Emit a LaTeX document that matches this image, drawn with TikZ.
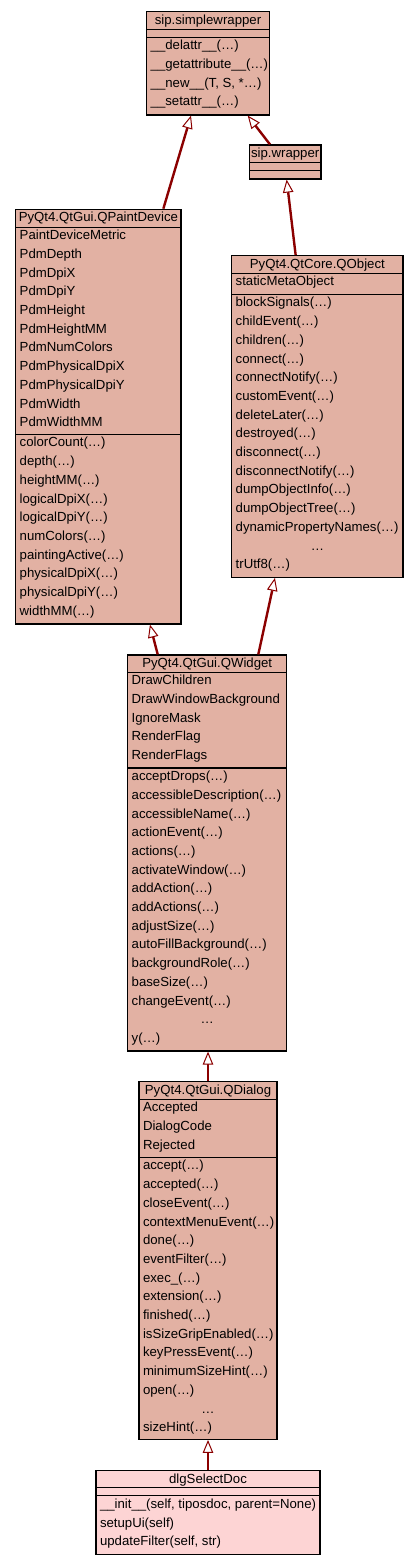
\documentclass[tikz,border=0pt]{standalone}
\usepackage{fontspec}
\setmainfont{Liberation Sans}
\usepackage{tikz}
\usetikzlibrary{arrows.meta, calc}

\definecolor{clsfill}{HTML}{E2B1A3}
\definecolor{docfill}{HTML}{FDD4D4}
\definecolor{inhred}{HTML}{8B0000}
\newcommand{\clsfont}{\fontsize{13.2}{16}\selectfont}

% class frame: name, left, right, top, title line, attribute line, bottom, fill, title
\newcommand{\umlframe}[9]{%
  \node[cls, fill=#8, minimum width={#3-#2}, minimum height={#7-#4}] (#1) at ({(#2+#3)/2},{(#4+#7)/2}) {};
  \draw[sepline] (#2,#5) -- (#3,#5);
  \draw[sepline] (#2,#6) -- (#3,#6);
  \node[hd] (#1-t) at ({(#2+#3)/2},{#4+12.6}) {#9};
}
% rows of a compartment: prefix, x, first baseline, list
\newcommand{\umlrows}[4]{%
  \foreach \t [count=\i] in {#4}
    \node[row] (#1\i) at ({#2},{#3+18.7*(\i-1)}) {\t};
}

\begin{document}
\begin{tikzpicture}[x=1pt, y=-1pt,
    cls/.style={draw, line width=1.2pt, inner sep=0pt},
    sepline/.style={line width=1.2pt},
    hd/.style={anchor=base, inner sep=0pt, font=\clsfont},
    row/.style={anchor=base west, inner sep=0pt, font=\clsfont},
    inh/.style={draw=inhred, line width=2.4pt, -{Triangle[fill=white, line width=1pt, length=13pt, width=10.5pt]}}
  ]
  \useasboundingbox (0,0) rectangle (419,1565);

  % sip base classes
  \umlframe{sw}{146.7}{269.3}{11.7}{29.3}{37.3}{115}{clsfill}{sip.simplewrapper}
  \umlrows{sw-m}{150.5}{37.3+12.6}{\_\_delattr\_\_(…), \_\_getattribute\_\_(…), {\_\_new\_\_(T, S, *…)}, \_\_setattr\_\_(…)}
  \umlframe{wr}{249.3}{321}{145}{162.7}{170.7}{179}{clsfill}{sip.wrapper}

  % QPaintDevice
  \umlframe{pd}{15.7}{181}{209.3}{227.3}{434.3}{624}{clsfill}{PyQt4.QtGui.QPaintDevice}
  \umlrows{pd-a}{19.5}{227.3+12.4}{PaintDeviceMetric, PdmDepth, PdmDpiX, PdmDpiY, PdmHeight, PdmHeightMM, PdmNumColors, PdmPhysicalDpiX, PdmPhysicalDpiY, PdmWidth, PdmWidthMM}
  \umlrows{pd-m}{19.5}{434.3+12.6}{colorCount(…), depth(…), heightMM(…), logicalDpiX(…), logicalDpiY(…), numColors(…), paintingActive(…), physicalDpiX(…), physicalDpiY(…), widthMM(…)}

  % QObject
  \umlframe{qo}{231.7}{403}{255.7}{273.3}{294.3}{577.3}{clsfill}{PyQt4.QtCore.QObject}
  \umlrows{qo-a}{235.5}{273.3+12.4}{staticMetaObject}
  \umlrows{qo-m}{235.5}{294.3+12.6}{blockSignals(…), childEvent(…), children(…), connect(…), connectNotify(…), customEvent(…), deleteLater(…), destroyed(…), disconnect(…), disconnectNotify(…), dumpObjectInfo(…), dumpObjectTree(…), dynamicPropertyNames(…)}
  \node[hd] (qo-dots) at (317.35,{294.3+12.6+18.7*13}) {…};
  \node[row] (qo-last) at (235.5,{294.3+12.6+18.7*14}) {trUtf8(…)};

  % QWidget
  \umlframe{qw}{127.7}{286.7}{655}{672.3}{768}{1051}{clsfill}{PyQt4.QtGui.QWidget}
  \umlrows{qw-a}{131.5}{672.3+12.4}{DrawChildren, DrawWindowBackground, IgnoreMask, RenderFlag, RenderFlags}
  \umlrows{qw-m}{131.5}{768+12.6}{acceptDrops(…), accessibleDescription(…), accessibleName(…), actionEvent(…), actions(…), activateWindow(…), addAction(…), addActions(…), adjustSize(…), autoFillBackground(…), backgroundRole(…), baseSize(…), changeEvent(…)}
  \node[hd] (qw-dots) at (207.2,{768+12.6+18.7*13}) {…};
  \node[row] (qw-last) at (131.5,{768+12.6+18.7*14}) {y(…)};

  % QDialog
  \umlframe{qd}{139}{277}{1081.7}{1099.3}{1157.3}{1439.3}{clsfill}{PyQt4.QtGui.QDialog}
  \umlrows{qd-a}{142.8}{1099.3+12.4}{Accepted, DialogCode, Rejected}
  \umlrows{qd-m}{142.8}{1157.3+12.6}{accept(…), accepted(…), closeEvent(…), contextMenuEvent(…), done(…), eventFilter(…), exec\_(…), extension(…), finished(…), isSizeGripEnabled(…), keyPressEvent(…), minimumSizeHint(…), open(…)}
  \node[hd] (qd-dots) at (208,{1157.3+12.6+18.7*13}) {…};
  \node[row] (qd-last) at (142.8,{1157.3+12.6+18.7*14}) {sizeHint(…)};

  % dlgSelectDoc
  \umlframe{dlg}{96}{320}{1470.7}{1487.7}{1495.7}{1554.7}{docfill}{dlgSelectDoc}
  \umlrows{dlg-m}{99.8}{1495.7+12.6}{{\_\_init\_\_(self, tiposdoc, parent=None)}, setupUi(self), {updateFilter(self, str)}}

  % inheritance
  \draw[inh] ([xshift=65pt]pd.north) -- ([xshift=-17pt]sw.south);
  \draw[inh] ([xshift=-15.2pt]wr.north) -- ([xshift=39.7pt]sw.south);
  \draw[inh] ([xshift=-21.7pt]qo.north) -- ([xshift=1.5pt]wr.south);
  \draw[inh] ([xshift=-49.5pt]qw.north) -- ([xshift=51.6pt]pd.south);
  \draw[inh] ([xshift=51.1pt]qw.north) -- ([xshift=-42.4pt]qo.south);
  \draw[inh] (qd.north) -- ([xshift=0.8pt]qw.south);
  \draw[inh] (dlg.north) -- (qd.south);
\end{tikzpicture}
\end{document}
